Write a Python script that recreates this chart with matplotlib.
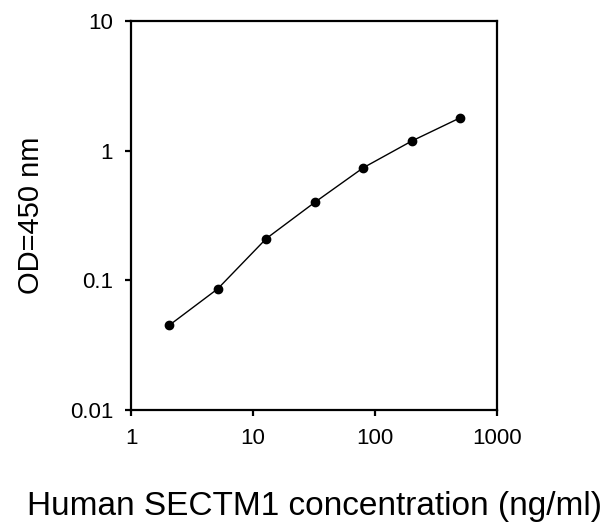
import matplotlib
matplotlib.use("Agg")
import matplotlib.pyplot as plt
from matplotlib.ticker import FixedLocator, NullLocator, FixedFormatter

plt.rcParams['font.family'] = ['Liberation Sans', 'DejaVu Sans']

# standard curve readings
conc = [2.05, 5.12, 12.8, 32, 80, 200, 500]
od = [0.045, 0.086, 0.21, 0.40, 0.74, 1.19, 1.8]

xticks = [1, 10, 100, 1000]
xlabels = ["1", "10", "100", "1000"]
yticks = [0.01, 0.1, 1, 10]
ylabels = ["0.01", "0.1", "1", "10"]

fig = plt.figure(figsize=(6.1, 5.29), dpi=100)
ax = fig.add_axes([0.215, 0.225, 0.600, 0.735])

ax.plot(conc, od, color="black", lw=1.0, marker="o", markersize=6)
ax.set_xscale("log")
ax.set_yscale("log")
ax.set_xlim(1, 1000)
ax.set_ylim(0.01, 10)

ax.xaxis.set_major_locator(FixedLocator(xticks))
ax.xaxis.set_major_formatter(FixedFormatter(xlabels))
ax.xaxis.set_minor_locator(NullLocator())
ax.yaxis.set_major_locator(FixedLocator(yticks))
ax.yaxis.set_major_formatter(FixedFormatter(ylabels))
ax.yaxis.set_minor_locator(NullLocator())

for s in ax.spines.values():
    s.set_linewidth(1.6)
ax.tick_params(direction="out", length=4, width=1.6, labelsize=16, pad=9)

ax.set_xlabel("Human SECTM1 concentration (ng/ml)", fontsize=24, labelpad=30)
ax.set_ylabel("OD=450 nm", fontsize=21, labelpad=18)

fig.savefig("out.png", dpi=100)
